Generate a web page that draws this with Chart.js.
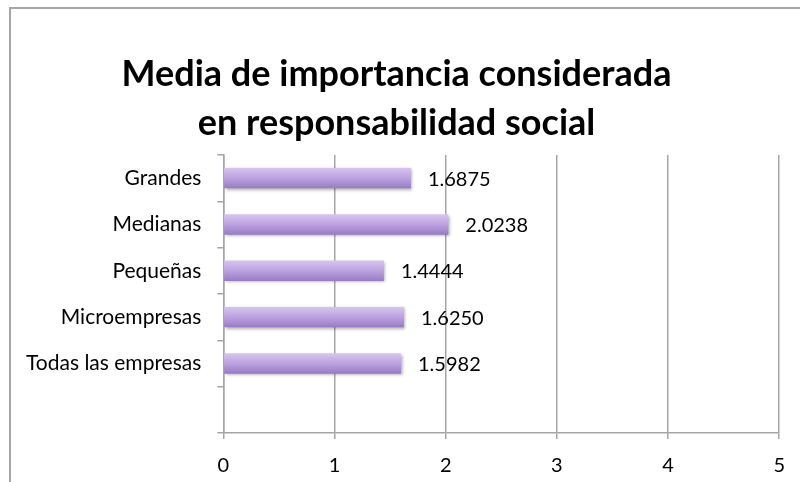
<!DOCTYPE html>
<html>
<head>
<meta charset="utf-8">
<script src="https://cdn.jsdelivr.net/npm/chart.js@4"></script>
<style>
  html, body { margin:0; padding:0; background:#fff; overflow:hidden; }
  #marco { position:absolute; left:9px; top:7px; width:900px; height:600px;
           border-left:2px solid #a6a6a6; border-top:2px solid #a6a6a6; }
  #caja { position:absolute; left:0; top:0; width:800px; height:482px; }
</style>
</head>
<body>
<div id="marco"></div>
<div id="caja"><canvas id="graf"></canvas></div>
<script>
/* ---- datos ---- */
const categorias = ['Grandes', 'Medianas', 'Pequeñas', 'Microempresas', 'Todas las empresas', ''];
const medias = [1.6875, 2.0238, 1.4444, 1.6250, 1.5982, null];
const ticksX = [0, 1, 2, 3, 4, 5];

const FUENTE = 'Lato, "Open Sans", sans-serif';
const GRIS = '#a6a6a6';

/* degradado vertical por barra, calculado con la escala */
function degradado(c){
  const ch = c.chart, y = ch.scales.y;
  const yc = y ? y.getPixelForValue(c.dataIndex) : NaN;
  if(!Number.isFinite(yc)) return '#b89ddc';
  const h = 11;
  const g = ch.ctx.createLinearGradient(0, yc-h, 0, yc+h);
  g.addColorStop(0, '#d9c7f2');
  g.addColorStop(0.5, '#bca2e0');
  g.addColorStop(1, '#9478c2');
  return g;
}

/* etiquetas de valor + sombra ligera */
const etiquetas = {
  id:'etiquetas',
  beforeDatasetDraw(ch){
    const ctx = ch.ctx; ctx.save();
    ctx.shadowColor = 'rgba(0,0,0,0.35)'; ctx.shadowBlur = 3; ctx.shadowOffsetX = 1.5; ctx.shadowOffsetY = 1.5;
  },
  afterDatasetDraw(ch){ ch.ctx.restore(); },
  afterDatasetsDraw(ch){
    const ctx = ch.ctx;
    ctx.save();
    ctx.font = '20px ' + FUENTE; ctx.fillStyle = '#000';
    ctx.textAlign = 'left'; ctx.textBaseline = 'middle';
    ch.getDatasetMeta(0).data.forEach((el, i) => {
      if(medias[i] == null) return;
      ctx.fillText(medias[i].toFixed(4), el.x + 17, el.y + 1);
    });
    ctx.restore();
  }
};

new Chart(document.getElementById('graf'), {
  type:'bar',
  data:{ labels:categorias, datasets:[{
    data:medias, backgroundColor:degradado, borderWidth:0,
    barPercentage:0.44, categoryPercentage:1
  }]},
  options:{
    indexAxis:'y', responsive:true, maintainAspectRatio:false, animation:false,
    layout:{ padding:{ left:10, right:17, top:0, bottom:-11 } },
    plugins:{
      legend:{ display:false }, tooltip:{ enabled:false },
      title:{ display:true, text:['Media de importancia considerada', 'en responsabilidad social'],
              color:'#000', font:{ family:FUENTE, size:36, weight:'bold', lineHeight:1.36 },
              padding:{ top:50, bottom:7 } }
    },
    scales:{
      x:{ min:0, max:5,
          afterBuildTicks: ax => { ax.ticks = ticksX.map(v => ({ value:v })); },
          grid:{ color:GRIS, lineWidth:1.5, tickLength:6 },
          border:{ color:GRIS, width:1.5 },
          ticks:{ color:'#000', padding:15, font:{ family:FUENTE, size:20 } } },
      y:{ grid:{ drawOnChartArea:false, color:GRIS, lineWidth:1.5, tickLength:6 },
          border:{ color:GRIS, width:1.5 },
          ticks:{ color:'#000', padding:16, font:{ family:FUENTE, size:21 } } }
    }
  },
  plugins:[etiquetas]
});
</script>
</body>
</html>
